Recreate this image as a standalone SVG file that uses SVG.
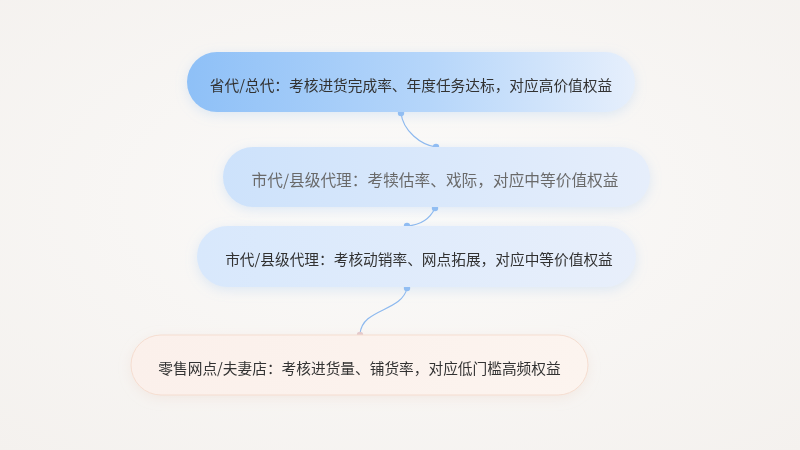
<svg xmlns="http://www.w3.org/2000/svg" width="800" height="450" viewBox="0 0 800 450">
<defs>
<radialGradient id="bg" cx="50%" cy="45%" r="75%">
<stop offset="0" stop-color="#fbfaf9"/>
<stop offset="1" stop-color="#f4f1ee"/>
</radialGradient>
<linearGradient id="g1" x1="0" y1="0" x2="1" y2="0">
<stop offset="0" stop-color="#8ec0f7"/>
<stop offset="0.55" stop-color="#b6d6fa"/>
<stop offset="1" stop-color="#e6effc"/>
</linearGradient>
<linearGradient id="g2" x1="0" y1="0" x2="1" y2="0">
<stop offset="0" stop-color="#cde2fb"/>
<stop offset="1" stop-color="#e6eefb"/>
</linearGradient>
<linearGradient id="g3" x1="0" y1="0" x2="1" y2="0">
<stop offset="0" stop-color="#d8e8fc"/>
<stop offset="1" stop-color="#e8effb"/>
</linearGradient>
<linearGradient id="g4" x1="0" y1="0" x2="1" y2="0">
<stop offset="0" stop-color="#fbf0eb"/>
<stop offset="1" stop-color="#fcf4ef"/>
</linearGradient>
<filter id="sh" x="-20%" y="-50%" width="140%" height="200%">
<feGaussianBlur in="SourceAlpha" stdDeviation="6"/>
<feOffset dy="3" result="b"/>
<feFlood flood-color="#9cc4f0" flood-opacity="0.3"/>
<feComposite in2="b" operator="in"/>
<feMerge><feMergeNode/><feMergeNode in="SourceGraphic"/></feMerge>
</filter>
<filter id="sh2" x="-20%" y="-50%" width="140%" height="200%">
<feGaussianBlur in="SourceAlpha" stdDeviation="6"/>
<feOffset dy="3" result="b"/>
<feFlood flood-color="#e8cfc2" flood-opacity="0.3"/>
<feComposite in2="b" operator="in"/>
<feMerge><feMergeNode/><feMergeNode in="SourceGraphic"/></feMerge>
</filter>
</defs>
<style>
.t{font-family:"Noto Sans CJK SC","Noto Sans",sans-serif;font-size:14.7px;fill:#333;text-anchor:middle;dominant-baseline:central}
.t2{font-size:15.7px;fill:#6a6a6a}
.c{fill:none;stroke:#8db9ef;stroke-width:1.2}
.d{fill:#8fbcf3}
</style>
<rect width="800" height="450" fill="url(#bg)"/>
<g id="connectors">
<path class="c" d="M401,113 C403,131 421,145 436,147"/>
<path class="c" d="M435,208 C430,219 420,225 407,226"/>
<path class="c" d="M407,288 C402,312 362,308 360,334"/>
<circle class="d" cx="401" cy="113" r="3.2"/>
<circle class="d" cx="436" cy="147" r="3.2"/>
<circle class="d" cx="435" cy="208" r="3.2"/>
<circle class="d" cx="407" cy="226" r="3.2"/>
<circle class="d" cx="407" cy="288" r="3.2"/>
<circle cx="360" cy="335" r="3.2" fill="#e3c9cc"/>
</g>
<g id="node1" filter="url(#sh)">
<rect x="187" y="52" width="448" height="60" rx="30" fill="url(#g1)"/>
<text class="t" x="411" y="84">省代/总代：考核进货完成率、年度任务达标，对应高价值权益</text>
</g>
<g id="node2" filter="url(#sh)">
<rect x="223" y="147" width="427" height="60" rx="30" fill="url(#g2)"/>
<text class="t t2" x="435" y="179">市代/县级代理：考犊估率、戏际，对应中等价值权益</text>
</g>
<g id="node3" filter="url(#sh)">
<rect x="197" y="226" width="439" height="61" rx="30.5" fill="url(#g3)"/>
<text class="t" x="419" y="258">市代/县级代理：考核动销率、网点拓展，对应中等价值权益</text>
</g>
<g id="node4" filter="url(#sh2)">
<rect x="131" y="335" width="457" height="60" rx="30" fill="url(#g4)" stroke="#f5ddd0" stroke-width="1"/>
<text class="t" x="359.5" y="367">零售网点/夫妻店：考核进货量、铺货率，对应低门槛高频权益</text>
</g>
</svg>
